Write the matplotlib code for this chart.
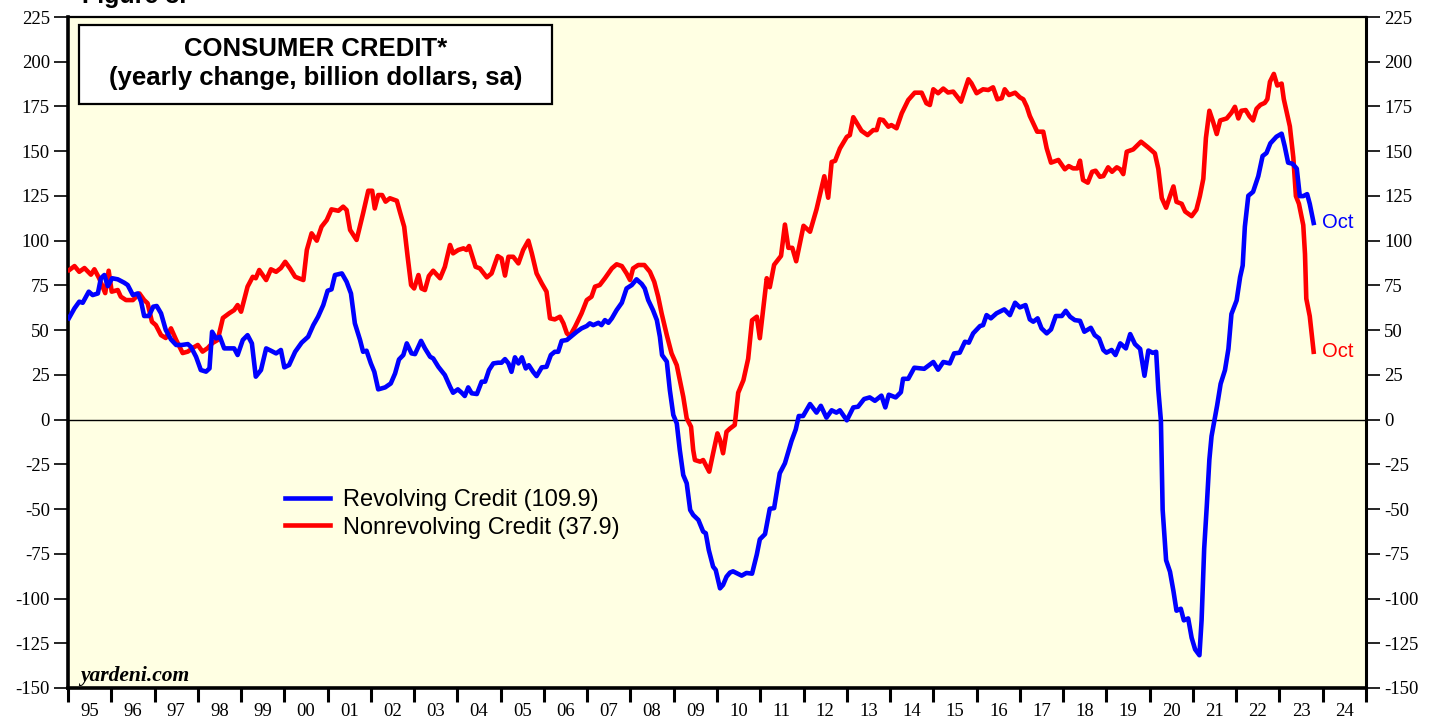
import matplotlib
matplotlib.use('Agg')
import matplotlib.pyplot as plt
import matplotlib.patches as patches
import numpy as np

# Revolving credit, yearly change (billion $)
rev_t = [1995.02, 1995.15, 1995.26, 1995.34, 1995.48, 1995.57, 1995.69, 1995.76, 1995.84, 1995.92,
         1996.02, 1996.15, 1996.30, 1996.38, 1996.50, 1996.61, 1996.69, 1996.76, 1996.87, 1996.97,
         1997.05, 1997.15, 1997.26, 1997.38, 1997.50, 1997.63, 1997.77, 1997.84, 1997.96,
         1998.07, 1998.19, 1998.27, 1998.33, 1998.42, 1998.51, 1998.61, 1998.77, 1998.84, 1998.92,
         1999.04, 1999.15, 1999.25, 1999.34, 1999.46, 1999.58, 1999.69, 1999.81, 1999.92,
         2000.00, 2000.11, 2000.25, 2000.40, 2000.55, 2000.67, 2000.78, 2000.90,
         2001.00, 2001.09, 2001.17, 2001.33, 2001.44, 2001.54, 2001.63, 2001.75, 2001.82, 2001.90,
         2002.00, 2002.08, 2002.17, 2002.33, 2002.46, 2002.56, 2002.65, 2002.75, 2002.83, 2002.94,
         2003.02, 2003.16, 2003.25, 2003.37, 2003.44, 2003.56, 2003.71, 2003.83, 2003.90,
         2004.01, 2004.10, 2004.17, 2004.25, 2004.33, 2004.45, 2004.56, 2004.64, 2004.73, 2004.83, 2004.94,
         2005.02, 2005.10, 2005.18, 2005.25, 2005.33, 2005.41, 2005.49, 2005.58, 2005.65, 2005.75, 2005.83, 2005.95,
         2006.06, 2006.16, 2006.25, 2006.33, 2006.41, 2006.53, 2006.64, 2006.76, 2006.87, 2006.99,
         2007.06, 2007.14, 2007.26, 2007.33, 2007.41, 2007.49, 2007.57, 2007.68, 2007.80, 2007.91,
         2008.03, 2008.14, 2008.26, 2008.33, 2008.41, 2008.52, 2008.61, 2008.68, 2008.73, 2008.84, 2008.91, 2008.99,
         2009.07, 2009.14, 2009.22, 2009.30, 2009.38, 2009.45, 2009.57, 2009.68, 2009.74, 2009.81, 2009.91, 2009.97,
         2010.07, 2010.14, 2010.22, 2010.30, 2010.37, 2010.57, 2010.68, 2010.81, 2010.92, 2010.99,
         2011.11, 2011.22, 2011.32, 2011.45, 2011.57, 2011.72, 2011.82, 2011.89, 2011.99,
         2012.15, 2012.30, 2012.40, 2012.53, 2012.65, 2012.76, 2012.84,
         2013.00, 2013.15, 2013.26, 2013.40, 2013.53, 2013.65, 2013.80, 2013.89, 2013.97,
         2014.13, 2014.25, 2014.30, 2014.42, 2014.56, 2014.79,
         2015.00, 2015.11, 2015.23, 2015.38, 2015.48, 2015.61, 2015.73, 2015.82, 2015.92,
         2016.08, 2016.15, 2016.23, 2016.33, 2016.46, 2016.64, 2016.77, 2016.89,
         2017.00, 2017.13, 2017.23, 2017.31, 2017.41, 2017.50, 2017.62, 2017.72, 2017.83, 2017.97,
         2018.06, 2018.16, 2018.27, 2018.39, 2018.49, 2018.64, 2018.73, 2018.83, 2018.93,
         2019.00, 2019.12, 2019.21, 2019.32, 2019.45, 2019.55, 2019.66, 2019.78, 2019.88, 2019.97,
         2020.07, 2020.15, 2020.20, 2020.26, 2020.30, 2020.38, 2020.47, 2020.55, 2020.62, 2020.72, 2020.79, 2020.89, 2020.97,
         2021.05, 2021.15, 2021.20, 2021.26, 2021.32, 2021.38, 2021.43, 2021.51, 2021.56, 2021.64, 2021.74, 2021.82, 2021.89,
         2022.01, 2022.09, 2022.15, 2022.20, 2022.28, 2022.39, 2022.51, 2022.61, 2022.70, 2022.79, 2022.93,
         2023.05, 2023.12, 2023.20, 2023.30, 2023.40, 2023.47, 2023.55, 2023.64, 2023.70, 2023.79]
rev_v = [56.6, 62.2, 65.9, 65.3, 71.5, 69.6, 70.5, 79.0, 80.8, 74.6,
         79.0, 78.4, 76.5, 75.2, 69.6, 70.5, 65.9, 57.9, 57.9, 63.1,
         63.5, 59.4, 50.1, 44.8, 41.7, 41.7, 42.2, 40.7, 35.1,
         27.7, 26.8, 28.6, 49.1, 45.4, 46.3, 39.8, 39.8, 39.8, 36.1,
         44.5, 47.2, 42.6, 24.0, 27.7, 39.8, 38.5, 37.0, 38.9,
         29.2, 30.5, 37.9, 43.0, 46.3, 52.8, 57.5, 64.0,
         72.0, 72.8, 80.8, 81.7, 77.0, 70.5, 53.8, 44.5, 37.9, 38.5,
         31.4, 26.7, 16.9, 18.0, 20.2, 25.8, 33.6, 36.1, 42.6, 37.0,
         36.6, 44.0, 39.8, 35.1, 34.2, 29.5, 24.9, 18.4, 15.0,
         16.9, 15.0, 13.2, 18.0, 14.7, 14.3, 21.2, 21.2, 27.7, 31.4, 31.8,
         31.8, 33.8, 31.4, 26.7, 34.8, 31.4, 34.8, 28.6, 30.4, 26.7, 24.3, 29.2,
         29.5, 36.1, 37.9, 37.9, 44.0, 44.5, 46.7, 49.1, 51.0, 52.3,
         53.8, 52.8, 54.1, 52.8, 55.6, 54.1, 56.6, 61.2, 65.3, 73.3,
         75.2, 78.4, 75.8, 73.3, 66.8, 61.2, 55.6, 46.3, 36.1, 32.4, 16.5, 2.6,
         -2.1, -17.0, -31.0, -35.6, -50.5, -53.3, -56.1, -62.6, -63.5, -72.9, -82.2, -84.0,
         -94.3, -92.4, -87.8, -85.5, -84.8, -87.2, -85.7, -86.1, -75.4, -66.9,
         -64.0, -49.8, -49.5, -30.0, -24.4, -12.1, -5.5, 2.0, 2.0,
         8.7, 3.9, 7.7, 1.1, 5.2, 3.9, 5.2,
         -0.4, 6.8, 7.2, 11.5, 12.4, 10.5, 13.4, 6.8, 13.9,
         12.4, 15.3, 22.8, 22.8, 29.0, 28.4,
         32.2, 27.9, 32.2, 31.4, 37.0, 37.4, 43.5, 43.0, 48.2,
         52.3, 52.8, 58.4, 56.6, 59.4, 61.6, 58.4, 65.3,
         62.7, 64.0, 56.0, 54.7, 56.6, 51.0, 48.2, 50.4, 57.9, 57.9,
         60.8, 57.5, 55.6, 55.2, 49.1, 51.3, 47.2, 45.4, 38.9,
         37.4, 38.9, 36.1, 42.6, 39.8, 47.8, 42.2, 39.5, 24.5, 38.6,
         37.3, 37.9, 16.7, -0.6, -50.4, -78.6, -85.0, -95.9, -106.8, -105.7, -112.2, -111.1, -121.9,
         -128.4, -131.7, -112.2, -72.1, -48.3, -22.3, -9.3, 1.5, 8.0, 20.0, 27.6, 39.5, 59.0,
         66.6, 79.6, 86.1, 107.8, 125.1, 127.3, 136.0, 147.3, 149.0, 154.4, 158.1,
         159.8, 152.9, 143.6, 143.0, 140.3, 124.9, 124.9, 126.0, 120.6, 109.9]

# Nonrevolving credit, yearly change (billion $)
nonrev_t = [1995.03, 1995.15, 1995.26, 1995.38, 1995.53, 1995.61, 1995.72, 1995.86, 1995.94,
            1996.01, 1996.15, 1996.22, 1996.34, 1996.50, 1996.65, 1996.76, 1996.84, 1996.94,
            1997.03, 1997.15, 1997.26, 1997.38, 1997.50, 1997.65, 1997.77, 1997.88,
            1998.00, 1998.11, 1998.23, 1998.34, 1998.46, 1998.58, 1998.73, 1998.84, 1998.92,
            1999.00, 1999.15, 1999.27, 1999.34, 1999.42, 1999.58, 1999.69, 1999.81, 1999.92,
            2000.02, 2000.13, 2000.25, 2000.44, 2000.52, 2000.63, 2000.75, 2000.86, 2000.98,
            2001.09, 2001.25, 2001.36, 2001.44, 2001.52, 2001.67, 2001.82, 2001.94,
            2002.03, 2002.09, 2002.17, 2002.26, 2002.34, 2002.44, 2002.60, 2002.67, 2002.77, 2002.85, 2002.93,
            2003.00, 2003.10, 2003.17, 2003.25, 2003.34, 2003.44, 2003.60, 2003.71, 2003.83, 2003.90,
            2004.02, 2004.14, 2004.21, 2004.27, 2004.42, 2004.52, 2004.68, 2004.79, 2004.93,
            2005.02, 2005.10, 2005.18, 2005.29, 2005.41, 2005.52, 2005.64, 2005.72, 2005.83, 2005.95,
            2006.06, 2006.14, 2006.25, 2006.37, 2006.45, 2006.53, 2006.60, 2006.72, 2006.87, 2006.99,
            2007.10, 2007.18, 2007.29, 2007.41, 2007.57, 2007.68, 2007.80, 2007.91, 2007.99,
            2008.06, 2008.18, 2008.32, 2008.45, 2008.55, 2008.64, 2008.72, 2008.84, 2008.95,
            2009.07, 2009.14, 2009.22, 2009.30, 2009.40, 2009.45, 2009.49, 2009.61, 2009.68, 2009.74, 2009.82, 2009.91,
            2010.01, 2010.07, 2010.14, 2010.22, 2010.30, 2010.41, 2010.49, 2010.61, 2010.72, 2010.81, 2010.92, 2010.99,
            2011.15, 2011.22, 2011.32, 2011.48, 2011.57, 2011.65, 2011.74, 2011.83,
            2012.00, 2012.15, 2012.30, 2012.48, 2012.57, 2012.65, 2012.73, 2012.84,
            2013.00, 2013.07, 2013.15, 2013.26, 2013.34, 2013.48, 2013.61, 2013.69, 2013.76, 2013.84, 2013.96,
            2014.03, 2014.15, 2014.27, 2014.42, 2014.57, 2014.73, 2014.84, 2014.92,
            2015.00, 2015.11, 2015.23, 2015.34, 2015.46, 2015.64, 2015.81, 2015.88,
            2016.00, 2016.15, 2016.27, 2016.38, 2016.48, 2016.58, 2016.65, 2016.75, 2016.89,
            2017.00, 2017.08, 2017.16, 2017.23, 2017.31, 2017.40, 2017.54, 2017.62, 2017.72, 2017.89,
            2018.04, 2018.13, 2018.23, 2018.33, 2018.39, 2018.46, 2018.57, 2018.67, 2018.75, 2018.85, 2018.93,
            2019.04, 2019.13, 2019.24, 2019.32, 2019.39, 2019.47, 2019.62, 2019.80, 2019.97,
            2020.12, 2020.20, 2020.28, 2020.38, 2020.47, 2020.55, 2020.62, 2020.74, 2020.82, 2020.97,
            2021.08, 2021.16, 2021.24, 2021.30, 2021.38, 2021.47, 2021.55, 2021.63, 2021.78, 2021.89, 2021.97,
            2022.05, 2022.12, 2022.22, 2022.31, 2022.39, 2022.47, 2022.56, 2022.66, 2022.72, 2022.78, 2022.87, 2022.95,
            2023.05, 2023.10, 2023.16, 2023.24, 2023.32, 2023.38, 2023.45, 2023.55, 2023.59, 2023.62, 2023.70, 2023.79]
nonrev_v = [83.6, 85.8, 82.6, 84.7, 81.0, 84.0, 79.0, 70.7, 83.2,
            71.5, 72.4, 68.7, 66.8, 66.8, 70.5, 66.8, 65.0, 54.7,
            52.8, 47.2, 45.6, 51.0, 44.5, 37.2, 38.0, 40.0,
            41.7, 38.0, 40.0, 42.8, 44.5, 56.8, 59.5, 61.2, 64.0,
            60.3, 74.3, 79.8, 79.0, 83.6, 78.0, 84.0, 82.6, 84.7,
            88.2, 84.5, 79.8, 78.0, 94.8, 104.1, 100.0, 107.8, 111.5,
            117.5, 116.7, 119.0, 117.1, 106.0, 100.4, 115.3, 127.9,
            127.9, 118.0, 125.5, 125.5, 121.8, 123.7, 122.3, 116.2, 107.8, 91.0, 75.2,
            73.3, 80.8, 73.3, 72.4, 80.2, 83.2, 79.0, 85.4, 97.6, 92.9,
            94.8, 95.7, 94.8, 97.0, 85.4, 84.5, 79.5, 81.7, 91.4,
            90.1, 80.5, 91.0, 91.0, 87.3, 94.8, 100.0, 92.9, 81.7, 76.1,
            71.5, 56.6, 56.0, 57.5, 53.8, 48.2, 46.7, 51.9, 59.4, 66.8,
            68.7, 74.3, 75.2, 79.0, 84.5, 86.8, 85.8, 81.7, 78.0,
            84.5, 86.4, 86.4, 82.6, 77.0, 68.7, 59.4, 47.2, 37.0,
            30.4, 22.1, 12.8, 0.7, -4.0, -17.0, -22.6, -23.5, -22.6, -25.4, -29.1, -18.8,
            -7.7, -11.4, -18.8, -6.8, -5.0, -3.0, 15.0, 22.0, 34.0, 55.5, 57.5, 45.5,
            79.0, 74.0, 86.5, 91.5, 109.0, 96.0, 96.0, 88.5,
            108.3, 105.0, 117.5, 136.0, 124.0, 144.0, 144.6, 151.5,
            158.0, 159.0, 169.0, 164.6, 161.4, 159.0, 161.8, 161.8, 167.8, 167.4, 163.7,
            164.6, 162.8, 171.2, 178.6, 182.7, 182.7, 176.8, 175.8,
            184.6, 182.4, 185.0, 182.8, 183.3, 177.7, 190.2, 188.0,
            182.4, 184.6, 184.2, 185.7, 179.0, 179.6, 184.6, 181.4, 182.7,
            180.1, 179.0, 174.9, 169.7, 165.6, 160.9, 160.9, 151.6, 143.6, 145.1,
            139.9, 141.7, 140.4, 140.4, 144.7, 133.9, 132.4, 138.5, 139.1, 135.7, 136.1,
            141.0, 138.5, 141.0, 139.9, 137.2, 149.7, 151.0, 155.3, 152.0,
            148.8, 140.1, 123.8, 118.4, 124.9, 130.3, 121.7, 120.6, 116.3, 113.7,
            117.3, 124.9, 134.6, 157.4, 172.6, 166.1, 159.6, 167.2, 168.3, 171.5, 174.8,
            168.3, 172.6, 173.0, 169.4, 167.2, 173.7, 175.9, 177.0, 179.1, 188.8, 193.2, 186.7,
            187.8, 179.1, 172.6, 163.9, 146.5, 124.9, 120.6, 108.7, 92.5, 67.6, 57.8, 37.9]

year_labels = ['%02d' % (y % 100) for y in range(1995, 2025)]
y_ticks = np.arange(-150, 226, 25)

serif = 'Liberation Serif'
sans = 'Liberation Sans'

fig = plt.figure(figsize=(14.43, 7.21), dpi=100)
ax = fig.add_axes([68 / 1443, 1 - 688 / 721, 1298 / 1443, 671 / 721])
ax.set_facecolor('#FFFFE3')

ax.axhline(0, color='black', lw=1.0, zorder=1)
ax.plot(nonrev_t, nonrev_v, color='#FF0000', lw=3.3, solid_joinstyle='round',
        label='Nonrevolving Credit (37.9)', zorder=3)
ax.plot(rev_t, rev_v, color='#0000FF', lw=3.3, solid_joinstyle='round',
        label='Revolving Credit (109.9)', zorder=4)

ax.set_xlim(1995, 2025)
ax.set_ylim(-150, 225)

# x axis: year boundaries as ticks, labels centred between
ax.set_xticks(np.arange(1995, 2026))
ax.set_xticklabels([])
ax.set_xticks(np.arange(1995.5, 2025, 1), minor=True)
ax.set_xticklabels(year_labels, minor=True, fontfamily=serif, fontsize=13.5)
ax.tick_params(axis='x', which='major', direction='out', length=10, width=2.2)
ax.tick_params(axis='x', which='minor', length=0, pad=11)

ax.set_yticks(y_ticks)
ax.set_yticklabels([str(v) for v in y_ticks], fontfamily=serif, fontsize=13.5)
ax.tick_params(axis='y', which='major', direction='out', length=10, width=1.2,
               left=True, right=True, labelleft=True, labelright=True, pad=3)

for side, w in [('left', 2.6), ('bottom', 2.6), ('right', 2.2), ('top', 1.6)]:
    ax.spines[side].set_linewidth(w)
    ax.spines[side].set_color('black')

# title box
ax.add_patch(patches.Rectangle((0.0085, 0.8703), 0.3644, 0.1178, transform=ax.transAxes,
                               facecolor='white', edgecolor='black', lw=1.6, zorder=5))
ax.text(0.1907, 0.9523, 'CONSUMER CREDIT*', transform=ax.transAxes, ha='center', va='center',
        fontfamily=sans, fontweight='bold', fontsize=18.5, zorder=6)
ax.text(0.1907, 0.9091, '(yearly change, billion dollars, sa)', transform=ax.transAxes,
        ha='center', va='center', fontfamily=sans, fontweight='bold', fontsize=18.5, zorder=6)

# legend (revolving first)
h, l = ax.get_legend_handles_labels()
leg = ax.legend(h[::-1], l[::-1], loc='upper left', bbox_to_anchor=(0.1672, 0.296),
                frameon=False, handlelength=1.9, handletextpad=0.55, labelspacing=0.22,
                borderpad=0, borderaxespad=0, prop={'family': sans, 'size': 17})

ax.annotate('Oct', xy=(rev_t[-1], rev_v[-1]), xytext=(6, 0), textcoords='offset points',
            va='center', ha='left', color='#0000FF', fontfamily=sans, fontsize=14.5)
ax.annotate('Oct', xy=(nonrev_t[-1], nonrev_v[-1]), xytext=(6, 0), textcoords='offset points',
            va='center', ha='left', color='#FF0000', fontfamily=sans, fontsize=14.5)

ax.text(0.009, 0.01, 'yardeni.com', transform=ax.transAxes, ha='left', va='baseline',
        fontfamily=serif, fontweight='bold', fontstyle='italic', fontsize=15.5)

fig.text(82 / 1443, 1 - 3 / 721, 'Figure 8.', ha='left', va='baseline',
         fontfamily=sans, fontweight='bold', fontsize=18)

fig.savefig('out.png', dpi=100)
